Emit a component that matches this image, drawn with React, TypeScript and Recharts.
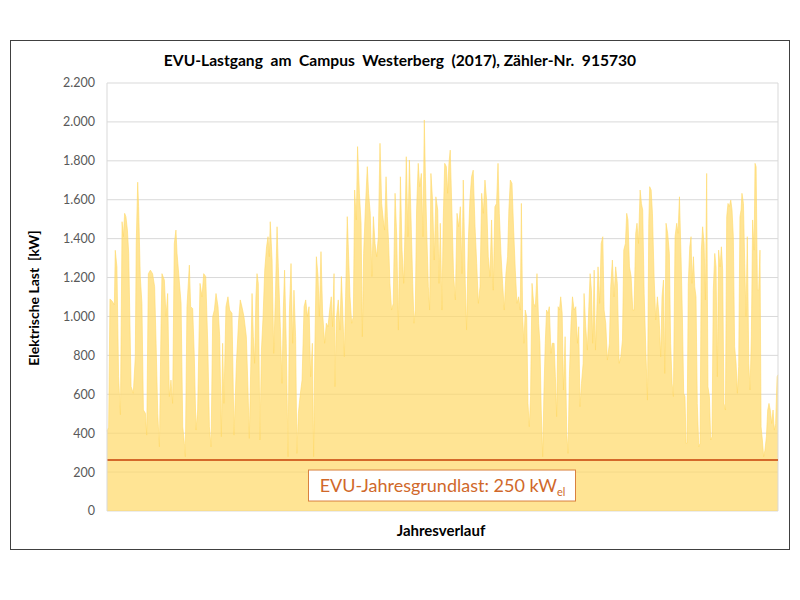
import React from "react";
import { AreaChart, Area, XAxis, YAxis, CartesianGrid, ReferenceLine } from "recharts";

// [day of year, load kW]
const janFeb: [number, number][] = [
  [0, 410], [0.9, 430], [1.6, 1090], [2.7, 1080], [4.0, 1060], [4.5, 1340], [5.4, 1255], [6.3, 690], [7.3, 495],
  [8.2, 1487], [8.9, 1410], [9.6, 1530], [10.3, 1513], [11.1, 1444], [11.8, 1324], [13.1, 640], [14.3, 605],
  [15.4, 793], [15.9, 1375], [16.7, 1690], [17.2, 1564], [18.1, 1205], [19.0, 1067], [19.8, 519], [20.9, 502],
  [21.6, 390], [22.5, 1220], [23.6, 1238], [24.8, 1220], [25.9, 1153], [26.7, 862], [27.6, 502], [28.5, 330],
  [29.4, 965], [29.9, 1220], [31.2, 1187], [32.1, 999], [33.0, 1118], [33.9, 588], [34.8, 673], [35.7, 553],
  [36.6, 1375], [37.5, 1444], [38.1, 1324], [39.0, 1220], [40.3, 1067], [41.2, 433], [42.1, 348], [42.6, 279],
  [43.5, 1050], [44.8, 1264], [45.5, 1050], [46.6, 1041], [47.5, 793], [48.4, 416], [49.3, 519], [50.6, 1170],
  [51.7, 1101], [52.6, 1220], [53.7, 1205], [54.8, 862], [55.7, 433], [56.6, 330], [57.5, 999], [58.4, 1033],
  [59.3, 1118],
];

const marApr: [number, number][] = [
  [60.4, 1050], [61.3, 896], [62.2, 382], [62.9, 862], [63.6, 553], [64.7, 1050], [65.8, 1101], [66.7, 1033],
  [68.0, 1016], [69.1, 390], [70.4, 759], [71.6, 982], [72.5, 1085], [73.4, 1050], [74.5, 999], [75.8, 896],
  [76.7, 622], [77.4, 373], [78.2, 742], [78.9, 1118], [79.6, 896], [80.3, 759], [81.0, 1101], [81.6, 1220],
  [82.3, 1170], [83.2, 365], [84.0, 827], [84.9, 999], [85.8, 1238], [86.8, 1358], [87.6, 1410], [88.3, 1307],
  [88.8, 1487], [89.8, 1290], [90.7, 810], [91.6, 1101], [92.5, 1461], [93.2, 1255], [94.3, 947], [95.2, 656],
  [95.9, 1033], [96.6, 1238], [97.5, 862], [98.5, 279], [99.2, 1016], [100.1, 1272], [101.0, 862], [101.7, 1135],
  [102.6, 896], [103.3, 296], [104.1, 502], [105.0, 588], [106.1, 673], [107.2, 1050], [108.1, 1085], [109.0, 999],
  [109.9, 1050], [110.8, 690], [111.7, 862], [112.4, 279], [113.1, 862], [113.9, 1307], [114.8, 1205], [115.5, 999],
  [116.4, 1333], [117.3, 1016], [118.4, 862], [119.3, 965], [120.2, 947],
];

const mayJun: [number, number][] = [
  [121.3, 1050], [122.0, 1101], [122.7, 947], [123.5, 1220], [124.0, 639], [124.7, 982], [125.8, 1085], [126.7, 930],
  [127.5, 1205], [128.2, 1033], [129.1, 793], [129.8, 1101], [130.7, 1513], [131.5, 1290], [132.2, 1101], [133.1, 965],
  [134.0, 999], [134.7, 1650], [135.6, 1496], [136.3, 1873], [137.3, 1633], [138.2, 1479], [138.9, 896], [139.6, 1324],
  [140.5, 1547], [141.6, 1770], [142.3, 1633], [143.2, 1530], [144.1, 1205], [144.9, 1513], [145.8, 1375], [146.7, 1307],
  [147.6, 1410], [148.5, 1890], [149.4, 1581], [150.3, 1496], [151.0, 1444], [151.8, 1718], [152.5, 1513], [153.2, 1375],
  [153.9, 1170], [154.8, 1033], [155.7, 1067], [156.7, 1633], [157.6, 1410], [158.5, 930], [159.6, 1718], [160.5, 1341],
  [161.4, 1170], [162.1, 1444], [162.8, 1821], [163.7, 1410], [164.5, 1804], [165.4, 1496], [166.3, 1170], [167.0, 965],
  [167.7, 1033], [168.4, 1547], [169.3, 1787], [170.1, 1667], [171.0, 1735], [171.9, 1410], [172.6, 2010], [173.2, 1718],
  [173.9, 1444], [174.8, 1153], [175.5, 1033], [176.2, 1735], [177.1, 1598], [178.0, 1290], [178.9, 1615], [179.9, 1547],
  [180.6, 1170], [181.3, 1479],
];

const julAug: [number, number][] = [
  [182.2, 1033], [182.9, 1496], [183.7, 1787], [184.6, 1770], [185.3, 1633], [186.0, 1787], [186.7, 1855], [187.6, 1547],
  [188.5, 1220], [189.5, 1085], [190.4, 1530], [191.3, 1461], [192.2, 1564], [193.1, 1220], [193.8, 1701], [194.9, 1170],
  [195.6, 930], [196.5, 1375], [197.4, 1598], [198.3, 1718], [199.2, 1752], [200.2, 1461], [201.1, 1272], [202.0, 1067],
  [202.9, 1153], [203.8, 1633], [204.7, 1530], [205.6, 1701], [206.5, 1598], [207.4, 1307], [208.3, 1205], [209.2, 1496],
  [210.1, 1135], [211.0, 1564], [211.9, 1581], [212.7, 1787], [213.4, 1530], [214.3, 1324], [215.2, 1170], [216.1, 1033],
  [217.0, 1220], [217.9, 1307], [218.6, 1547], [219.4, 1701], [220.3, 1684], [221.2, 1444], [222.1, 1238], [223.0, 1067],
  [223.9, 1101], [224.8, 1033], [225.4, 1581], [226.1, 999], [226.8, 862], [227.5, 1033], [228.3, 999], [229.0, 553],
  [229.7, 433], [230.4, 588], [231.2, 1170], [232.1, 1067], [233.0, 1050], [233.9, 1220], [234.8, 965], [235.5, 862],
  [236.2, 519], [237.0, 279], [237.7, 622], [238.4, 862], [239.1, 1033], [239.9, 1016], [240.6, 1050], [241.5, 810],
  [242.2, 862],
];

const sepOct: [number, number][] = [
  [243.2, 862], [243.9, 690], [244.6, 485], [245.4, 1050], [246.1, 1033], [246.8, 1101], [247.6, 1016], [248.3, 622],
  [249.2, 896], [250.1, 399], [250.8, 296], [251.5, 690], [252.4, 965], [253.2, 1101], [254.1, 1033], [255.0, 1050],
  [255.9, 862], [256.6, 947], [257.3, 536], [258.1, 656], [259.0, 759], [259.5, 1118], [260.4, 947], [261.3, 827],
  [262.1, 1050], [262.8, 1220], [263.5, 1135], [264.2, 862], [265.0, 1238], [265.7, 827], [266.4, 1016], [267.1, 1255],
  [268.0, 1067], [268.8, 1375], [269.7, 1410], [270.4, 1033], [271.3, 965], [272.2, 776], [273.3, 862], [274.0, 1153],
  [274.9, 1290], [275.8, 1101], [276.7, 1255], [277.6, 1170], [278.6, 759], [279.5, 793], [280.4, 879], [281.1, 1341],
  [282.0, 1375], [282.7, 1530], [283.4, 1496], [284.2, 1255], [285.1, 1205], [286.0, 1033], [286.7, 1033], [287.6, 1427],
  [288.3, 1479], [289.1, 1375], [290.0, 1650], [290.7, 1581], [291.4, 1547], [292.2, 1118], [293.1, 827], [294.0, 570],
  [294.7, 1479], [295.2, 1667], [296.0, 1650], [296.7, 1530], [297.6, 1205], [298.5, 982], [299.4, 1101], [300.3, 999],
  [301.2, 793], [301.9, 1101], [302.7, 1187], [303.4, 707],
];

const novDec: [number, number][] = [
  [304.1, 1479], [305.0, 1427], [305.9, 1324], [306.6, 862], [307.4, 656], [308.1, 588], [309.0, 1410], [309.9, 1479],
  [310.6, 1427], [311.4, 1615], [312.3, 1290], [313.0, 999], [313.7, 605], [314.4, 588], [315.0, 348], [315.5, 348],
  [316.2, 1170], [317.0, 1358], [317.7, 1410], [318.2, 1170], [319.0, 1307], [319.7, 1153], [320.4, 1101], [321.1, 553],
  [321.9, 330], [322.6, 348], [323.3, 1341], [324.0, 1461], [324.8, 1375], [325.5, 1085], [326.2, 1735], [326.9, 639],
  [327.7, 588], [328.4, 365], [329.1, 382], [329.8, 1135], [330.6, 1324], [331.3, 1255], [332.0, 690], [332.7, 1341],
  [333.5, 1255], [334.2, 1358], [334.9, 1238], [335.6, 553], [336.4, 519], [337.1, 1513], [337.8, 1581], [338.5, 1564],
  [339.3, 1598], [340.0, 1547], [340.7, 1410], [341.4, 844], [342.2, 759], [342.9, 605], [343.6, 742], [344.3, 1513],
  [344.9, 1547], [345.4, 1633], [346.2, 1581], [346.9, 1272], [347.6, 999], [348.3, 1410], [349.1, 759], [349.8, 622],
  [350.5, 896], [351.2, 1496], [352.0, 1341], [352.5, 1787], [353.1, 1770], [353.8, 1135], [354.5, 1135], [355.2, 1341],
  [355.8, 433], [356.5, 365], [357.2, 279], [357.9, 313], [358.7, 382], [359.4, 519], [360.1, 553], [360.8, 519],
  [361.6, 450], [362.3, 519], [363.0, 416], [363.7, 450], [364.5, 690], [365.0, 700],
];

const yTicks = [0, 200, 400, 600, 800, 1000, 1200, 1400, 1600, 1800, 2000, 2200];
const baseLoad = 262;
const baseLoadLabel = "EVU-Jahresgrundlast: 250 kW";
const title = "EVU-Lastgang  am  Campus  Westerberg  (2017), Zähler-Nr.  915730";

const data = [...janFeb, ...marApr, ...mayJun, ...julAug, ...sepOct, ...novDec].map(([day, load]) => ({ day, load }));

const fmt = (v: number) =>
  v >= 1000 ? `${Math.floor(v / 1000)}.${String(v % 1000).padStart(3, "0")}` : String(v);

const FONT = "Lato, 'Open Sans', sans-serif";

const BaseLabel = (props: any) => {
  const vb = props.viewBox || {};
  const cx = vb.x + vb.width / 2;
  const top = vb.y + 10;
  return (
    <g>
      <rect x={cx - 134} y={top} width={267} height={31} fill="#ffffff" stroke="#D9813F" strokeWidth={1} />
      <text x={cx} y={top + 22} textAnchor="middle" fill="#D0682A" fontSize={18} fontFamily={FONT}>
        {baseLoadLabel}
        <tspan fontSize={11} dy={4}>el</tspan>
      </text>
    </g>
  );
};

export default function App() {
  return (
    <div style={{ position: "absolute", left: 0, top: 0, width: 800, height: 600, background: "#fff", fontFamily: FONT }}>
      <div
        style={{
          position: "absolute",
          left: 10,
          top: 40,
          width: 778,
          height: 508,
          border: "1px solid #404040",
        }}
      />
      <div
        style={{
          position: "absolute",
          left: 0,
          width: 800,
          top: 51,
          textAlign: "center",
          fontWeight: 700,
          fontSize: 15.6,
          color: "#000",
          whiteSpace: "pre",
        }}
      >
        {title}
      </div>
      <div
        style={{
          position: "absolute",
          left: 33,
          top: 298,
          transform: "translate(-50%, -50%) rotate(-90deg)",
          fontWeight: 700,
          fontSize: 14,
          whiteSpace: "pre",
          color: "#000",
        }}
      >
        {"Elektrische Last  [kW]"}
      </div>
      <div
        style={{
          position: "absolute",
          left: 441,
          top: 530,
          transform: "translate(-50%, -50%)",
          fontWeight: 700,
          fontSize: 15,
          color: "#000",
        }}
      >
        Jahresverlauf
      </div>
      <div style={{ position: "absolute", left: 0, top: 0 }}>
        <AreaChart width={800} height={600} data={data} margin={{ top: 83, right: 22, bottom: 89, left: 10 }}>
          <CartesianGrid vertical={false} stroke="#D9D9D9" />
          <XAxis dataKey="day" type="number" domain={[0, 365]} hide />
          <YAxis
            domain={[0, 2200]}
            ticks={yTicks}
            width={97}
            tickFormatter={fmt}
            tickLine={false}
            tickSize={6}
            tickMargin={6}
            axisLine={{ stroke: "#D9D9D9" }}
            tick={{ fill: "#595959", fontSize: 12.5, fontFamily: FONT }}
            interval={0}
          />
          <Area
            type="linear"
            dataKey="load"
            stroke="#FFD966"
            strokeWidth={0.6}
            fill="#FFD966"
            fillOpacity={0.7}
            isAnimationActive={false}
            dot={false}
          />
          <ReferenceLine x={365} stroke="#D9D9D9" />
          <ReferenceLine y={baseLoad} stroke="#D4692A" strokeWidth={2} label={<BaseLabel />} />
        </AreaChart>
      </div>
    </div>
  );
}
